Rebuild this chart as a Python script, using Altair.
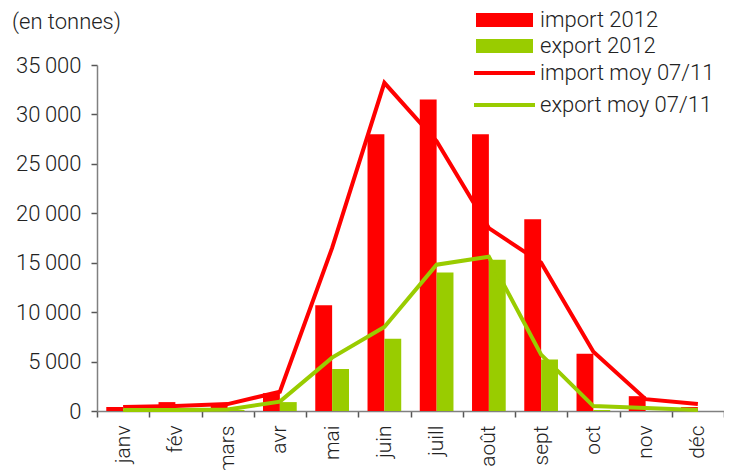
import altair as alt
import pandas as pd

months = ["janv", "fév", "mars", "avr", "mai", "juin", "juill", "août", "sept", "oct", "nov", "déc"]
import_2012 = [400, 900, 600, 1800, 10700, 28000, 31500, 28000, 19400, 5800, 1500, 400]
export_2012 = [100, 150, 100, 900, 4250, 7300, 14000, 15300, 5200, 100, 0, 0]
import_moy = [400, 500, 700, 1950, 16500, 33200, 27300, 18500, 15000, 6000, 1200, 700]
export_moy = [100, 100, 150, 950, 5400, 8500, 14800, 15600, 5700, 500, 300, 100]
bar_series = ["import 2012", "export 2012"]
line_series = ["import moy 07/11", "export moy 07/11"]
unit_label = "(en tonnes)"

RED = "#ff0000"
GREEN = "#99cc00"
FONT = "Roboto"
FW = 300
FS = 22

bars_df = pd.DataFrame({
    "mois": months * 2,
    "valeur": import_2012 + export_2012,
    "serie": [bar_series[0]] * 12 + [bar_series[1]] * 12,
})
lines_df = pd.DataFrame({
    "mois": months * 2,
    "valeur": import_moy + export_moy,
    "serie": [line_series[0]] * 12 + [line_series[1]] * 12,
})

x_enc = alt.X(
    "mois:N", sort=months,
    scale=alt.Scale(paddingInner=0, paddingOuter=0),
    axis=alt.Axis(title=None, labelAngle=270, tickBand="extent", tickSize=6,
                  labelPadding=8, labelFontSize=FS - 1, labelFont=FONT,
                  labelFontWeight=FW, labelColor="#222"),
)
y_enc = alt.Y(
    "valeur:Q",
    scale=alt.Scale(domain=[0, 35000], nice=False),
    axis=alt.Axis(title=None, values=list(range(0, 35001, 5000)), grid=False,
                  tickSize=6, labelPadding=10, labelFontSize=FS, labelFont=FONT,
                  labelFontWeight=FW, labelColor="#222",
                  labelExpr="replace(format(datum.value, ','), ',', '\u2009')"),
)

bars = alt.Chart(bars_df).mark_bar().encode(
    x=x_enc,
    y=y_enc,
    xOffset=alt.XOffset("serie:N", sort=bar_series,
                        scale=alt.Scale(paddingOuter=0.55, paddingInner=0)),
    fill=alt.Fill("serie:N", sort=bar_series,
                  scale=alt.Scale(domain=bar_series, range=[RED, GREEN]), legend=None),
)

lines = alt.Chart(lines_df).mark_line(strokeWidth=4).encode(
    x=x_enc,
    y=y_enc,
    detail="serie:N",
    stroke=alt.Stroke("serie:N", sort=line_series,
                      scale=alt.Scale(domain=line_series, range=[RED, GREEN]), legend=None),
)

layers = [bars, lines]

# unit label
layers.append(
    alt.Chart(pd.DataFrame({"t": [unit_label]})).mark_text(
        align="left", baseline="middle", fontSize=FS, font=FONT, fontWeight=FW, color="#222"
    ).encode(x=alt.value(-85), y=alt.value(-43), text="t:N")
)

# manual legend
leg_rows = [
    (bar_series[0], RED, "rect", -45),
    (bar_series[1], GREEN, "rect", -19),
    (line_series[0], RED, "line", 8),
    (line_series[1], GREEN, "line", 40),
]
for label, col, kind, yc in leg_rows:
    d = pd.DataFrame({"t": [label]})
    if kind == "rect":
        layers.append(alt.Chart(d).mark_rect(color=col).encode(
            x=alt.value(379), x2=alt.value(436), y=alt.value(yc - 7), y2=alt.value(yc + 7)))
    else:
        layers.append(alt.Chart(d).mark_rule(color=col, strokeWidth=4).encode(
            x=alt.value(377), x2=alt.value(438), y=alt.value(yc)))
    layers.append(alt.Chart(d).mark_text(
        align="left", baseline="middle", fontSize=FS, font=FONT, fontWeight=FW, color="#222"
    ).encode(x=alt.value(443), y=alt.value(yc), text="t:N"))

chart = alt.layer(*layers).properties(
    width=627, height=346,
    autosize=alt.AutoSizeParams(type="none"),
    padding={"left": 89, "top": 57, "right": 0, "bottom": 59},
).configure_view(stroke=None).configure_axis(
    domainColor="#808080", domainWidth=1.5, tickColor="#555", tickWidth=1.5
)

chart.save("out.html", embed_options={"renderer": "svg", "actions": False})
